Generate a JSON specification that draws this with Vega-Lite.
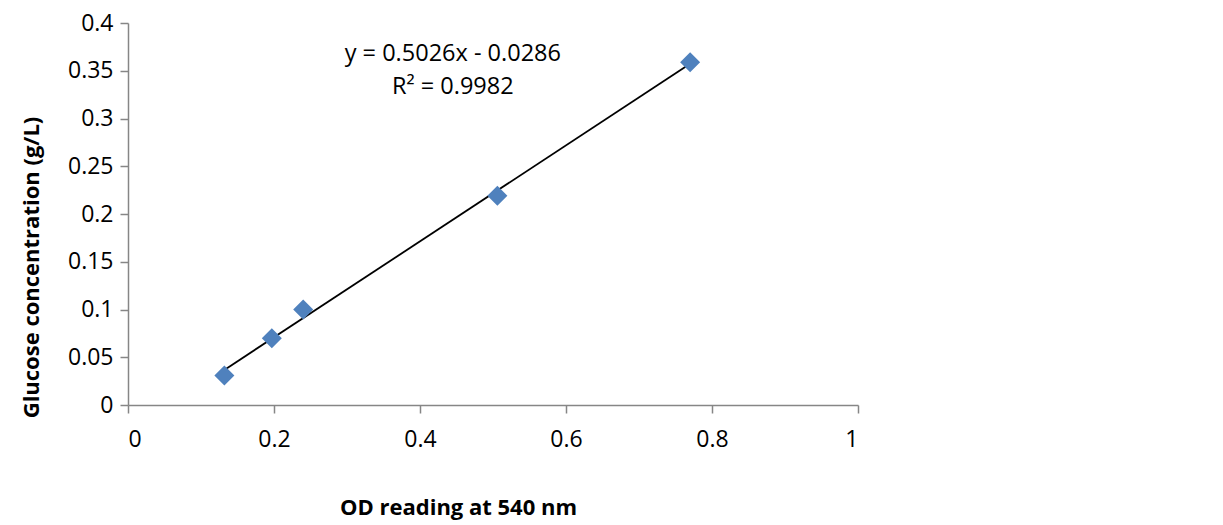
{
  "$schema": "https://vega.github.io/schema/vega-lite/v6.json",
  "width": 730,
  "height": 382,
  "autosize": {"type": "none"},
  "padding": {"left": 128, "top": 23, "right": 365, "bottom": 120},
  "background": "white",
  "config": {
    "view": {"stroke": null},
    "font": "Open Sans",
    "axis": {
      "grid": false,
      "domainColor": "#868686",
      "domainWidth": 1.5,
      "tickColor": "#868686",
      "tickWidth": 1.5,
      "tickSize": 8,
      "labelFont": "Open Sans",
      "labelFontSize": 23,
      "labelColor": "#000000",
      "titleFont": "Open Sans",
      "titleFontSize": 22,
      "titleFontWeight": "bold",
      "titleColor": "#000000"
    }
  },
  "datasets": {
    "points": [
      {"od": 0.132, "glucose": 0.031},
      {"od": 0.197, "glucose": 0.07},
      {"od": 0.240, "glucose": 0.1},
      {"od": 0.506, "glucose": 0.219},
      {"od": 0.770, "glucose": 0.359}
    ],
    "labels": [
      {"od": 0.445, "glucose": 0.3675, "text": "y = 0.5026x - 0.0286"},
      {"od": 0.445, "glucose": 0.333, "text": "R² = 0.9982"}
    ]
  },
  "layer": [
    {
      "data": {"name": "points"},
      "transform": [{"regression": "glucose", "on": "od"}],
      "mark": {"type": "line", "color": "#000000", "strokeWidth": 1.8},
      "encoding": {
        "x": {
          "field": "od", "type": "quantitative",
          "scale": {"domain": [0, 1], "nice": false, "zero": false},
          "axis": {
            "title": "OD reading at 540 nm",
            "values": [0, 0.2, 0.4, 0.6, 0.8, 1],
            "format": "~g",
            "labelPadding": 15,
            "titleX": 330, "titleY": 102, "titleAnchor": null,
            "titleAlign": "center", "titleBaseline": "middle"
          }
        },
        "y": {
          "field": "glucose", "type": "quantitative",
          "scale": {"domain": [0, 0.4], "nice": false, "zero": false},
          "axis": {
            "title": "Glucose concentration (g/L)",
            "values": [0, 0.05, 0.1, 0.15, 0.2, 0.25, 0.3, 0.35, 0.4],
            "format": "~g",
            "labelPadding": 7,
            "titleX": -97, "titleY": 244, "titleAngle": -90,
            "titleAlign": "center", "titleBaseline": "middle"
          }
        }
      }
    },
    {
      "data": {"name": "points"},
      "mark": {"type": "point", "shape": "diamond", "filled": true, "opacity": 1, "color": "#4F81BD", "size": 400},
      "encoding": {
        "x": {"field": "od", "type": "quantitative"},
        "y": {"field": "glucose", "type": "quantitative"}
      }
    },
    {
      "data": {"name": "labels"},
      "mark": {"type": "text", "font": "Open Sans", "fontSize": 23.5, "color": "#000000", "align": "center", "baseline": "middle"},
      "encoding": {
        "x": {"field": "od", "type": "quantitative"},
        "y": {"field": "glucose", "type": "quantitative"},
        "text": {"field": "text"}
      }
    }
  ]
}
